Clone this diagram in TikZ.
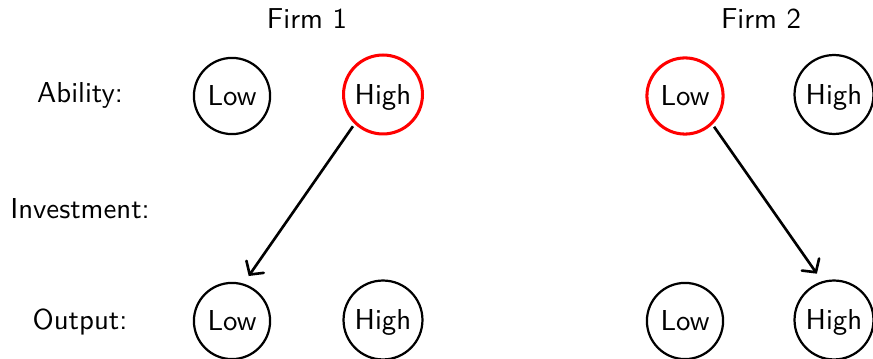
\documentclass[tikz,border=0pt]{standalone}
\usetikzlibrary{arrows.meta}
\begin{document}
\begin{tikzpicture}[
  x=0.361pt, y=-0.361pt,
  every node/.style={font=\fontsize{10.4pt}{12pt}\sffamily},
  state/.style={circle, draw, thick, inner sep=0pt, minimum size=27.5pt, text height=7.2pt, text depth=0pt},
  wide/.style={minimum size=28.5pt},
  chosen/.style={draw=red, line width=1.1pt},
  link/.style={-{Straight Barb[length=3.4pt, width=7.6pt, line cap=round]}, line width=0.95pt, shorten <=1pt, shorten >=3.3pt},
  rowlabel/.style={anchor=base},
  title/.style={anchor=base}
]
  \useasboundingbox (0,0) rectangle (873,359);

  % column headings
  \node[title] (t1) at (307,29) {Firm 1};
  \node[title] (t2) at (761,29) {Firm 2};

  % row labels
  \node[rowlabel] (ability) at (80,102.7) {Ability:};
  \node[rowlabel] (invest)  at (80,219)   {Investment:};
  \node[rowlabel] (output)  at (80,330)   {Output:};

  % ability states
  \node[state] (a1low) at (232,96) {Low};
  \node[state, wide, chosen] (a1high) at (383,94.5) {High};
  \node[state, chosen] (a2low) at (685,96) {Low};
  \node[state, wide] (a2high) at (834,94.5) {High};

  % output states
  \node[state] (o1low) at (232,321) {Low};
  \node[state, wide] (o1high) at (383,320) {High};
  \node[state] (o2low) at (685,321) {Low};
  \node[state, wide] (o2high) at (834,320) {High};

  % transitions
  \draw[link] (a1high.226) -- (o1low.73);
  \draw[link] (a2low.314) -- (o2high.107);
\end{tikzpicture}
\end{document}
